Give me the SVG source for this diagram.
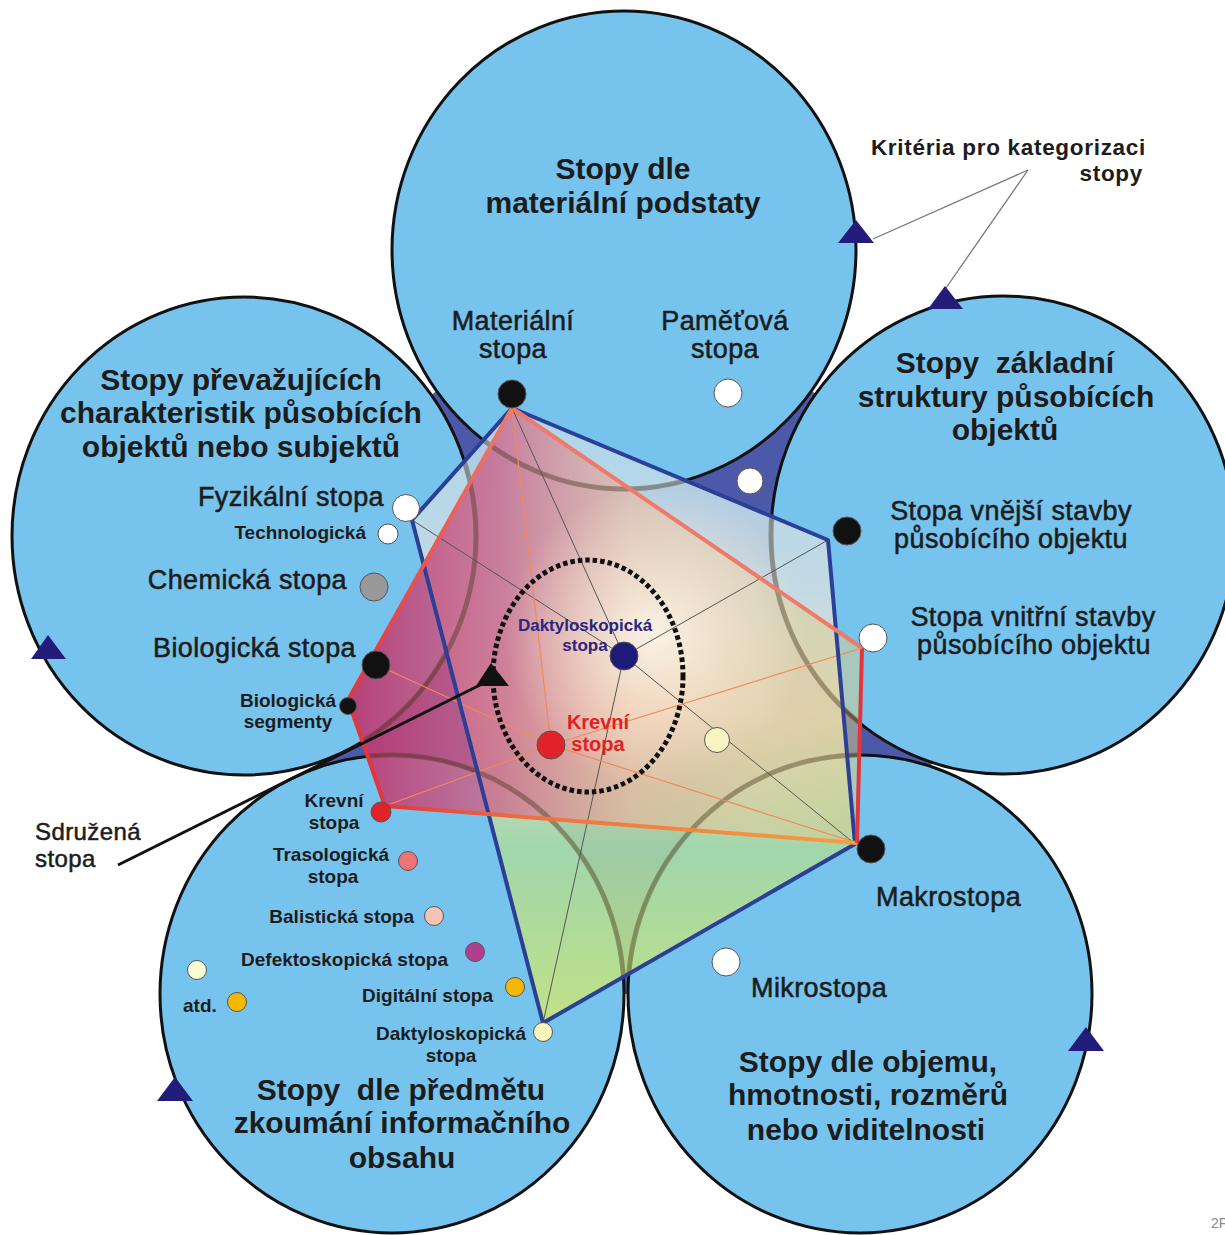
<svg xmlns="http://www.w3.org/2000/svg" width="1225" height="1235" viewBox="0 0 1225 1235">
<style>
text{font-family:"Liberation Sans",Arial,sans-serif;fill:#1c1c1c}
.t{font-size:30px;font-weight:bold;text-anchor:middle}
.pre{white-space:pre}
.m{font-size:27px;stroke:#1c1c1c;stroke-width:0.55;letter-spacing:0.4px}
.mc{font-size:27px;stroke:#1c1c1c;stroke-width:0.55;text-anchor:middle;letter-spacing:0.4px}
.s{font-size:19px;font-weight:bold}
.sc{font-size:19px;font-weight:bold;text-anchor:middle}
.r{text-anchor:end}
.circ{fill:#76c4ee;stroke:#111;stroke-width:3}
.tri{fill:#241c7a}
.dot{stroke:#555;stroke-width:1}
.gl{stroke:#555;stroke-width:1;fill:none}
.ol{stroke:#f08a5a;stroke-width:1.2;fill:none}
</style>
<defs>
<linearGradient id="gBlue" gradientUnits="userSpaceOnUse" x1="0" y1="408" x2="0" y2="1023">
<stop offset="0" stop-color="#b2d8ec"/>
<stop offset="0.3" stop-color="#ccdce2"/>
<stop offset="0.5" stop-color="#eee2c6"/>
<stop offset="0.72" stop-color="#a6d8a4"/>
<stop offset="1" stop-color="#c8e47a"/>
</linearGradient>
<linearGradient id="gRed" gradientUnits="userSpaceOnUse" x1="348" y1="0" x2="862" y2="0">
<stop offset="0" stop-color="#bc3470" stop-opacity="0.92"/>
<stop offset="0.3" stop-color="#cc6a8c" stop-opacity="0.8"/>
<stop offset="0.55" stop-color="#eeb49a" stop-opacity="0.6"/>
<stop offset="0.8" stop-color="#e6cc96" stop-opacity="0.5"/>
<stop offset="1" stop-color="#d8cc8c" stop-opacity="0.5"/>
</linearGradient>
<radialGradient id="gHi" gradientUnits="userSpaceOnUse" cx="655" cy="635" r="150">
<stop offset="0" stop-color="#fffbee" stop-opacity="0.85"/>
<stop offset="0.6" stop-color="#fff4dc" stop-opacity="0.35"/>
<stop offset="1" stop-color="#fff4dc" stop-opacity="0"/>
</radialGradient>
<linearGradient id="sRedL" gradientUnits="userSpaceOnUse" x1="512" y1="408" x2="348" y2="700">
<stop offset="0" stop-color="#f07a6a"/>
<stop offset="1" stop-color="#e2363a"/>
</linearGradient>
<linearGradient id="sRedB" gradientUnits="userSpaceOnUse" x1="385" y1="0" x2="857" y2="0">
<stop offset="0" stop-color="#e2363a"/>
<stop offset="0.3" stop-color="#ee7040"/>
<stop offset="1" stop-color="#f4a040"/>
</linearGradient>
<clipPath id="polyClip">
<polygon points="512,408 828,540 855,844 543,1023 412,520"/>
<polygon points="512,408 862,648 857,843 385,806 348,700"/>
</clipPath>
</defs>

<g id="background">
<polygon points="624,250 1003,535 860,994 392,994 244,536" fill="#4c59a9"/>
</g>

<g id="circle-top"><ellipse class="circ" cx="624" cy="250" rx="232" ry="239"/></g>
<g id="circle-left"><ellipse class="circ" cx="244" cy="536" rx="232" ry="239"/></g>
<g id="circle-right"><ellipse class="circ" cx="1003" cy="535" rx="232" ry="239"/></g>
<g id="circle-bottom-left"><ellipse class="circ" cx="392" cy="994" rx="232" ry="239"/></g>
<g id="circle-bottom-right"><ellipse class="circ" cx="860" cy="994" rx="232" ry="239"/></g>

<g id="polygons">
<polygon points="512,408 828,540 855,844 543,1023 412,520" fill="url(#gBlue)" fill-opacity="0.9"/>
<polygon points="512,408 862,648 857,843 385,806 348,700" fill="url(#gRed)"/>
<g clip-path="url(#polyClip)">
<rect x="300" y="400" width="600" height="630" fill="url(#gHi)"/>
<g fill="none" stroke="#4a3a22" stroke-opacity="0.42" stroke-width="5">
<ellipse cx="624" cy="250" rx="232" ry="239"/>
<ellipse cx="244" cy="536" rx="232" ry="239"/>
<ellipse cx="1003" cy="535" rx="232" ry="239"/>
<ellipse cx="392" cy="994" rx="232" ry="239"/>
<ellipse cx="860" cy="994" rx="232" ry="239"/>
</g>
</g>
</g>

<g id="connectors">
<line class="gl" x1="624" y1="656" x2="512" y2="408"/>
<line class="gl" x1="624" y1="656" x2="412" y2="520"/>
<line class="gl" x1="624" y1="656" x2="828" y2="540"/>
<line class="gl" x1="624" y1="656" x2="855" y2="844"/>
<line class="gl" x1="624" y1="656" x2="543" y2="1023"/>
<line class="ol" x1="551" y1="745" x2="512" y2="408"/>
<line class="ol" x1="551" y1="745" x2="375" y2="664"/>
<line class="ol" x1="551" y1="745" x2="385" y2="806"/>
<line class="ol" x1="551" y1="745" x2="862" y2="648"/>
<line class="ol" x1="551" y1="745" x2="857" y2="843"/>
<polygon points="512,408 828,540 855,844 543,1023 412,520" fill="none" stroke="#2b3f96" stroke-width="4" stroke-linejoin="round"/>
<line x1="512" y1="408" x2="348" y2="700" stroke="url(#sRedL)" stroke-width="4"/>
<line x1="348" y1="700" x2="385" y2="806" stroke="#e2363a" stroke-width="4"/>
<line x1="385" y1="806" x2="857" y2="843" stroke="url(#sRedB)" stroke-width="4"/>
<line x1="857" y1="843" x2="862" y2="648" stroke="#e2363a" stroke-width="4"/>
<line x1="862" y1="648" x2="512" y2="408" stroke="#f07a6a" stroke-width="4"/>
<ellipse cx="588" cy="676" rx="95" ry="116" fill="none" stroke="#111" stroke-width="5" stroke-dasharray="4.5 3"/>
<line x1="118" y1="865" x2="482" y2="684" stroke="#111" stroke-width="3"/>
<polygon points="491,663 476,686 509,686" fill="#111"/>
<line x1="1028" y1="170" x2="873" y2="239" stroke="#777" stroke-width="1.3"/>
<line x1="1028" y1="170" x2="946" y2="288" stroke="#777" stroke-width="1.3"/>
</g>

<g id="markers">
<polygon class="tri" points="856,220 838,243 874,243"/>
<polygon class="tri" points="945,286 928,309 963,309"/>
<polygon class="tri" points="48,635 31,659 66,659"/>
<polygon class="tri" points="175,1077 157,1101 193,1101"/>
<polygon class="tri" points="1086,1027 1068,1051 1104,1051"/>
</g>

<g id="dots">
<circle class="dot" cx="512" cy="394" r="14" fill="#111"/>
<circle class="dot" cx="728" cy="393" r="14" fill="#fff"/>
<circle class="dot" cx="750" cy="481" r="13" fill="#fff"/>
<circle class="dot" cx="406" cy="508" r="13.5" fill="#fff"/>
<circle class="dot" cx="388" cy="534" r="10" fill="#fff"/>
<circle class="dot" cx="374" cy="587" r="14" fill="#999"/>
<circle class="dot" cx="376" cy="665" r="14" fill="#111"/>
<circle class="dot" cx="348" cy="706" r="8.5" fill="#111"/>
<circle class="dot" cx="847" cy="531" r="14" fill="#111"/>
<circle class="dot" cx="873" cy="638" r="14" fill="#fff"/>
<circle class="dot" cx="624" cy="656" r="14" fill="#1e1a7a"/>
<circle class="dot" cx="551" cy="745" r="14" fill="#e0222a"/>
<circle class="dot" cx="717" cy="740" r="12.5" fill="#f8f4c4"/>
<circle class="dot" cx="381" cy="812" r="10" fill="#e0222a"/>
<circle class="dot" cx="408" cy="861" r="9.5" fill="#ee7474"/>
<circle class="dot" cx="434" cy="916" r="9.5" fill="#f6c4b4"/>
<circle class="dot" cx="475" cy="952" r="9.5" fill="#b0408e"/>
<circle class="dot" cx="197" cy="970" r="9.5" fill="#fbfbd6"/>
<circle class="dot" cx="237" cy="1002" r="9.5" fill="#f5b800"/>
<circle class="dot" cx="515" cy="987" r="9.5" fill="#f5b800"/>
<circle class="dot" cx="543" cy="1032" r="9.5" fill="#fbf6bc"/>
<circle class="dot" cx="871" cy="849" r="14" fill="#111"/>
<circle class="dot" cx="726" cy="962" r="14" fill="#fff"/>
</g>

<g id="labels">
<text class="t" x="623" y="179">Stopy dle</text>
<text class="t" x="623" y="213">materiální podstaty</text>
<text class="mc" x="513" y="330">Materiální</text>
<text class="mc" x="513" y="358">stopa</text>
<text class="mc" x="725" y="330">Paměťová</text>
<text class="mc" x="725" y="358">stopa</text>

<text class="t" x="241" y="390">Stopy převažujících</text>
<text class="t" x="241" y="423">charakteristik působících</text>
<text class="t" x="241" y="457">objektů nebo subjektů</text>
<text class="m r" x="384" y="506">Fyzikální stopa</text>
<text class="s r" x="366" y="539">Technologická</text>
<text class="m r" x="347" y="589">Chemická stopa</text>
<text class="m r" x="356" y="657">Biologická stopa</text>
<text class="sc" x="288" y="707">Biologická</text>
<text class="sc" x="288" y="728">segmenty</text>

<text class="t pre" x="1005" y="373">Stopy  základní</text>
<text class="t" x="1006" y="407">struktury působících</text>
<text class="t" x="1005" y="440">objektů</text>
<text class="mc" x="1011" y="520">Stopa vnější stavby</text>
<text class="mc" x="1011" y="548">působícího objektu</text>
<text class="mc" x="1033" y="626">Stopa vnitřní stavby</text>
<text class="mc" x="1034" y="654">působícího objektu</text>

<text x="585" y="631" style="font-size:17px;font-weight:bold;text-anchor:middle;fill:#2a2580">Daktyloskopická</text>
<text x="585" y="651" style="font-size:17px;font-weight:bold;text-anchor:middle;fill:#2a2580">stopa</text>
<text x="598" y="729" style="font-size:20px;font-weight:bold;text-anchor:middle;fill:#e31e24">Krevní</text>
<text x="598" y="751" style="font-size:20px;font-weight:bold;text-anchor:middle;fill:#e31e24">stopa</text>

<text x="1146" y="155" style="font-size:22.5px;font-weight:bold;text-anchor:end;letter-spacing:0.7px">Kritéria pro kategorizaci</text>
<text x="1143" y="181" style="font-size:22.5px;font-weight:bold;text-anchor:end;letter-spacing:0.7px">stopy</text>

<text x="35" y="840" style="font-size:24px;stroke:#1c1c1c;stroke-width:0.5;letter-spacing:0.4px">Sdružená</text>
<text x="35" y="867" style="font-size:24px;stroke:#1c1c1c;stroke-width:0.5;letter-spacing:0.4px">stopa</text>

<text class="sc" x="334" y="807">Krevní</text>
<text class="sc" x="334" y="829">stopa</text>
<text class="sc" x="331" y="861">Trasologická</text>
<text class="sc" x="333" y="883">stopa</text>
<text class="s r" x="414" y="923">Balistická stopa</text>
<text class="s r" x="448" y="966">Defektoskopická stopa</text>
<text class="s" x="183" y="1012">atd.</text>
<text class="s r" x="493" y="1002">Digitální stopa</text>
<text class="sc" x="451" y="1040">Daktyloskopická</text>
<text class="sc" x="451" y="1062">stopa</text>
<text class="t pre" x="401" y="1100">Stopy  dle předmětu</text>
<text class="t" x="402" y="1133">zkoumání informačního</text>
<text class="t" x="402" y="1168">obsahu</text>

<text class="m" x="876" y="906">Makrostopa</text>
<text class="m" x="751" y="997">Mikrostopa</text>
<text class="t" x="868" y="1072">Stopy dle objemu,</text>
<text class="t" x="868" y="1105">hmotnosti, rozměrů</text>
<text class="t" x="866" y="1140">nebo viditelnosti</text>

<text x="1211" y="1228" style="font-size:14px;fill:#888">2F</text>
</g>
</svg>
